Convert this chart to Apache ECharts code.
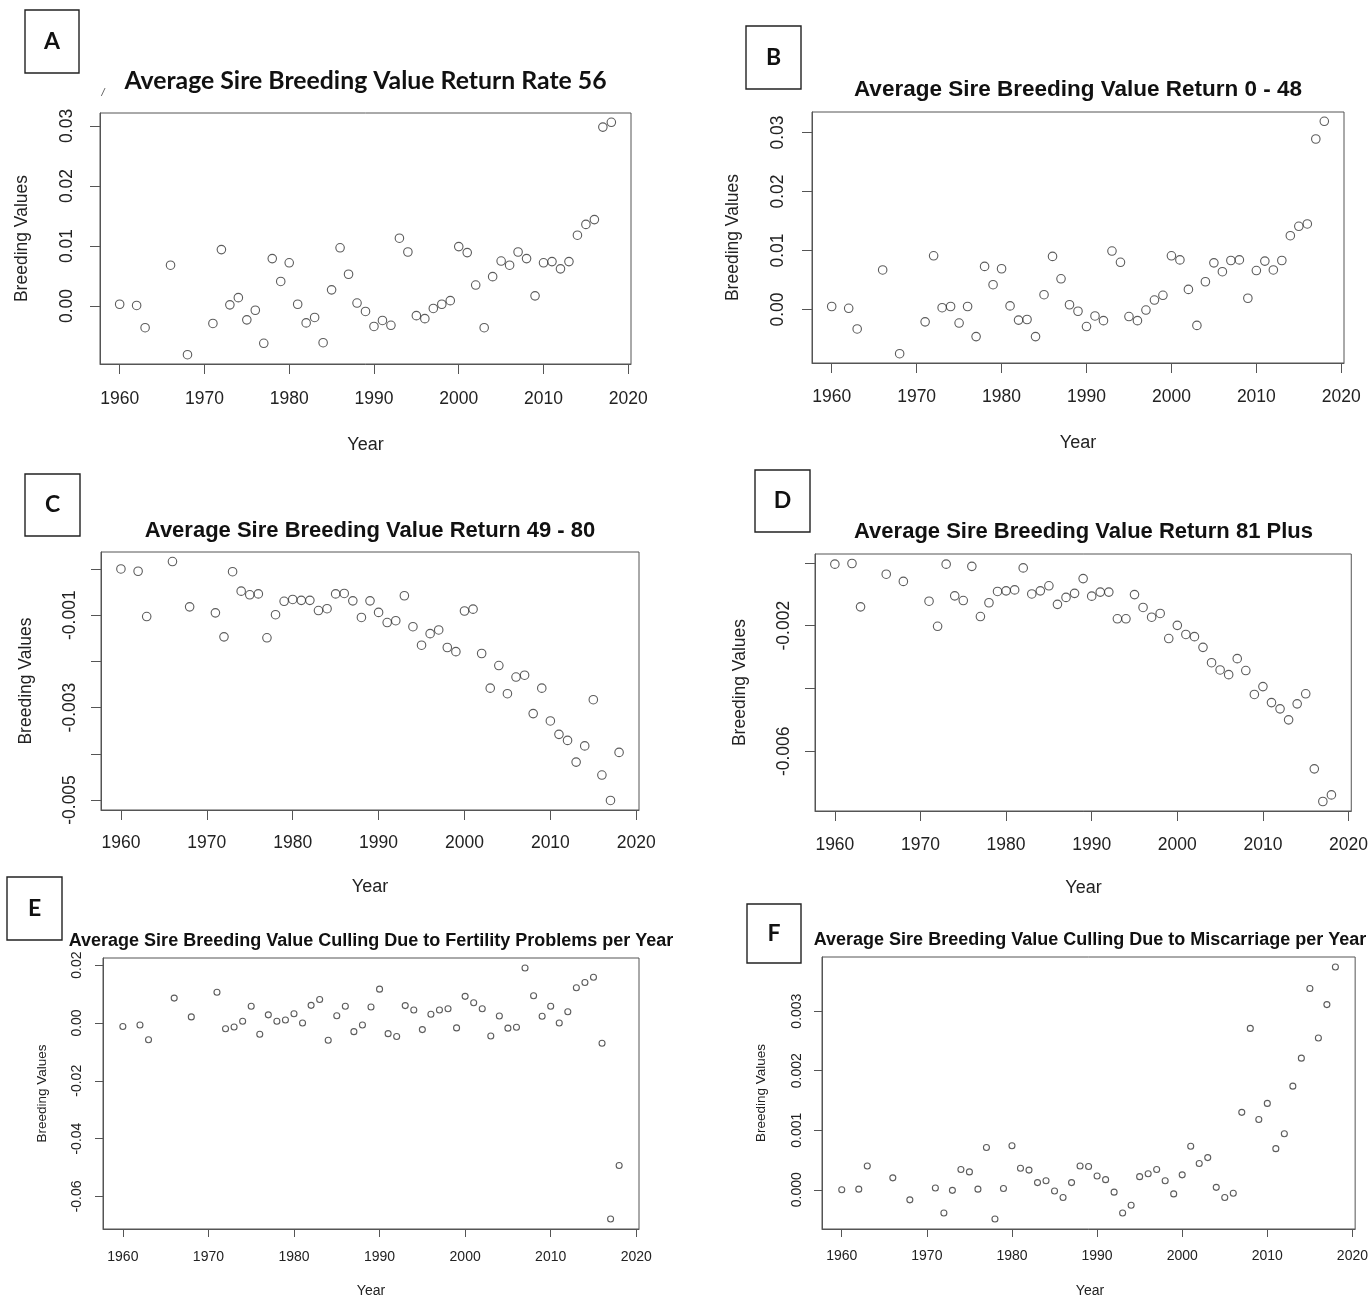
<!DOCTYPE html>
<html>
<head>
<meta charset="utf-8">
<script src="https://cdn.jsdelivr.net/npm/echarts@6/dist/echarts.min.js"></script>
<style>
  html, body { margin: 0; padding: 0; background: #fff; }
  #chart { width: 1371px; height: 1299px; }
</style>
</head>
<body>
<div id="chart"></div>
<script>
// Sire breeding value averages by birth year
const years = [1960, 1962, 1963, 1966, 1968,
  1971, 1972, 1973, 1974, 1975, 1976, 1977, 1978, 1979, 1980,
  1981, 1982, 1983, 1984, 1985, 1986, 1987, 1988, 1989, 1990,
  1991, 1992, 1993, 1994, 1995, 1996, 1997, 1998, 1999, 2000,
  2001, 2002, 2003, 2004, 2005, 2006, 2007, 2008, 2009, 2010,
  2011, 2012, 2013, 2014, 2015, 2016, 2017, 2018];

const returnRate56 = [0.0003, 0.0001, -0.0036, 0.0068, -0.0081,
  -0.0029, 0.0094, 0.0002, 0.0014, -0.0023, -0.0007, -0.0062, 0.0079, 0.0041, 0.0072,
  0.0003, -0.0028, -0.0019, -0.0061, 0.0027, 0.0097, 0.0053, 0.0005, -0.0009, -0.0034,
  -0.0024, -0.0032, 0.0113, 0.0090, -0.0016, -0.0021, -0.0004, 0.0003, 0.0009, 0.0099,
  0.0089, 0.0035, -0.0036, 0.0049, 0.0075, 0.0068, 0.0090, 0.0079, 0.0017, 0.0072,
  0.0074, 0.0062, 0.0074, 0.0118, 0.0136, 0.0144, 0.0298, 0.0306];

const return0to48 = [0.0005, 0.0002, -0.0033, 0.0067, -0.0075,
  -0.0021, 0.0091, 0.0003, 0.0005, -0.0023, 0.0005, -0.0046, 0.0073, 0.0042, 0.0069,
  0.0006, -0.0018, -0.0017, -0.0046, 0.0025, 0.0090, 0.0052, 0.0008, -0.0003, -0.0029,
  -0.0011, -0.0019, 0.0099, 0.0080, -0.0012, -0.0019, -0.0001, 0.0016, 0.0024, 0.0091,
  0.0084, 0.0034, -0.0027, 0.0047, 0.0079, 0.0064, 0.0083, 0.0084, 0.0019, 0.0066,
  0.0082, 0.0067, 0.0083, 0.0125, 0.0141, 0.0145, 0.0289, 0.0319];

const return49to80 = [0.0000, -0.00005, -0.00103, 0.00016, -0.00082,
  -0.00095, -0.00147, -0.00006, -0.00048, -0.00056, -0.00054, -0.00149, -0.00099, -0.00070, -0.00066,
  -0.00068, -0.00068, -0.00090, -0.00086, -0.00054, -0.00053, -0.00069, -0.00105, -0.00069, -0.00094,
  -0.00116, -0.00112, -0.00058, -0.00125, -0.00165, -0.00140, -0.00132, -0.00170, -0.00179, -0.00091,
  -0.00087, -0.00183, -0.00258, -0.00209, -0.00270, -0.00234, -0.00230, -0.00313, -0.00258, -0.00329,
  -0.00358, -0.00371, -0.00418, -0.00383, -0.00283, -0.00446, -0.00501, -0.00397];

const return81Plus = [-0.00004, -0.00002, -0.00140, -0.00036, -0.00059,
  -0.00122, -0.00202, -0.00004, -0.00105, -0.00120, -0.00011, -0.00171, -0.00127, -0.00091, -0.00089,
  -0.00086, -0.00016, -0.00099, -0.00089, -0.00073, -0.00132, -0.00110, -0.00097, -0.00050, -0.00106,
  -0.00093, -0.00093, -0.00178, -0.00178, -0.00101, -0.00142, -0.00173, -0.00161, -0.00241, -0.00199,
  -0.00228, -0.00235, -0.00269, -0.00318, -0.00341, -0.00356, -0.00305, -0.00343, -0.00419, -0.00394,
  -0.00445, -0.00465, -0.00500, -0.00449, -0.00417, -0.00656, -0.00760, -0.00739];

const cullFertility = [-0.0012, -0.0007, -0.0058, 0.0086, 0.0021,
  0.0106, -0.0020, -0.0014, 0.0006, 0.0058, -0.0039, 0.0028, 0.0006, 0.0010, 0.0032,
  0.0000, 0.0061, 0.0081, -0.0060, 0.0025, 0.0058, -0.0030, -0.0007, 0.0055, 0.0117,
  -0.0037, -0.0047, 0.0060, 0.0045, -0.0023, 0.0030, 0.0045, 0.0049, -0.0017, 0.0092,
  0.0070, 0.0049, -0.0045, 0.0024, -0.0018, -0.0015, 0.0190, 0.0094, 0.0023, 0.0058,
  0.0000, 0.0039, 0.0122, 0.0140, 0.0158, -0.0070, -0.0678, -0.0493];

const cullMiscarriage = [0.00000, 0.00001, 0.00040, 0.00020, -0.00017,
  0.00003, -0.00039, -0.00001, 0.00034, 0.00030, 0.00001, 0.00071, -0.00049, 0.00002, 0.00074,
  0.00036, 0.00033, 0.00012, 0.00015, -0.00002, -0.00013, 0.00012, 0.00040, 0.00039, 0.00023,
  0.00017, -0.00004, -0.00039, -0.00026, 0.00022, 0.00027, 0.00034, 0.00015, -0.00007, 0.00025,
  0.00073, 0.00044, 0.00054, 0.00004, -0.00013, -0.00006, 0.00130, 0.00271, 0.00118, 0.00145,
  0.00069, 0.00094, 0.00174, 0.00221, 0.00338, 0.00255, 0.00311, 0.00374];

const panelTitles = [
  'Average Sire Breeding Value Return Rate 56',
  'Average Sire Breeding Value Return 0 - 48',
  'Average Sire Breeding Value Return 49 - 80',
  'Average Sire Breeding Value Return 81 Plus',
  'Average Sire Breeding Value Culling Due to Fertility Problems per Year',
  'Average Sire Breeding Value Culling Due to Miscarriage per Year'
];
const panelLetters = ['A', 'B', 'C', 'D', 'E', 'F'];

const xTicks = [1960, 1970, 1980, 1990, 2000, 2010, 2020];
const yTicksA = [0, 0.01, 0.02, 0.03];
const yTicksB = [0, 0.01, 0.02, 0.03];
const yTicksC = [-0.005, -0.004, -0.003, -0.002, -0.001, 0];
const yLabelsC = [-0.005, -0.003, -0.001];
const yTicksD = [-0.006, -0.004, -0.002, 0];
const yLabelsD = [-0.006, -0.002];
const yTicksE = [-0.06, -0.04, -0.02, 0, 0.02];
const yTicksF = [0, 0.001, 0.002, 0.003];

// Layout of each panel (plot box, label boxes, text placement)
const ARIAL = '"Liberation Sans", Arial, sans-serif';
const CALIBRI = 'Lato, "Liberation Sans", sans-serif';
const panels = [
  { values: returnRate56, ticks: yTicksA, labels: yTicksA, digits: 2,
    grid: { left: 100, top: 113, width: 531, height: 251 },
    box: [25, 10, 54, 63], titleY: 81, titleFont: CALIBRI, titleSize: 24.8,
    tickFont: 17.5, tickLen: 10, xMargin: 26, yMargin: 24, xNameY: 445, yNameX: 22, nameFont: 18, bvFont: 17.5, sym: 8.5 },
  { values: return0to48, ticks: yTicksB, labels: yTicksB, digits: 2,
    grid: { left: 812, top: 112, width: 532, height: 251 },
    box: [746, 26, 55, 63], titleY: 90, titleFont: ARIAL, titleSize: 22.5,
    tickFont: 17.5, tickLen: 10, xMargin: 25, yMargin: 25, xNameY: 443, yNameX: 733, nameFont: 18, bvFont: 17.5, sym: 8.5 },
  { values: return49to80, ticks: yTicksC, labels: yLabelsC, digits: 3,
    grid: { left: 101, top: 552, width: 538, height: 258 },
    box: [25, 474, 55, 62], titleY: 531, titleFont: ARIAL, titleSize: 22,
    tickFont: 17.5, tickLen: 10, xMargin: 24, yMargin: 22, xNameY: 887, yNameX: 26, nameFont: 18, bvFont: 17.5, sym: 8.5 },
  { values: return81Plus, ticks: yTicksD, labels: yLabelsD, digits: 3,
    grid: { left: 815, top: 554, width: 537, height: 257 },
    box: [755, 470, 55, 62], titleY: 532, titleFont: ARIAL, titleSize: 22,
    tickFont: 17.5, tickLen: 10, xMargin: 25, yMargin: 22, xNameY: 888, yNameX: 740, nameFont: 18, bvFont: 17.5, sym: 8.5 },
  { values: cullFertility, ticks: yTicksE, labels: yTicksE, digits: 2,
    grid: { left: 103, top: 958, width: 536, height: 271 },
    box: [7, 877, 55, 63], titleY: 941, titleFont: ARIAL, titleSize: 18,
    tickFont: 14, tickLen: 8, xMargin: 21, yMargin: 19, xNameY: 1291, yNameX: 42, nameFont: 14, bvFont: 13.5, sym: 6 },
  { values: cullMiscarriage, ticks: yTicksF, labels: yTicksF, digits: 3,
    grid: { left: 822, top: 957, width: 536, height: 272 },
    box: [747, 904, 54, 59], titleY: 940, titleFont: ARIAL, titleSize: 18,
    tickFont: 14, tickLen: 8, xMargin: 20, yMargin: 18, xNameY: 1291, yNameX: 761, nameFont: 14, bvFont: 13.5, sym: 6 }
];

// R-style axis limits: data range widened by 4% on each side
function rRange(arr) {
  const lo = Math.min.apply(null, arr), hi = Math.max.apply(null, arr);
  const pad = (hi - lo) * 0.04;
  return [lo - pad, hi + pad];
}
const xRange = rRange(years);

const AXIS = '#555';
const TEXT = '#222';

const grids = [], xAxes = [], yAxes = [], series = [], graphics = [];

panels.forEach(function (p, i) {
  grids.push(Object.assign({ show: true, borderColor: AXIS, borderWidth: 1, backgroundColor: 'transparent' }, p.grid));
  xAxes.push({
    type: 'value', gridIndex: i, min: xRange[0], max: xRange[1],
    axisLine: { show: true, onZero: false, lineStyle: { color: AXIS, width: 1 } },
    axisTick: { show: true, length: p.tickLen, customValues: xTicks, lineStyle: { color: AXIS, width: 1 } },
    axisLabel: { customValues: xTicks, margin: p.xMargin, fontFamily: ARIAL, fontSize: p.tickFont, color: TEXT,
      formatter: function (v) { return String(Math.round(v)); } },
    splitLine: { show: false }
  });
  const yr = rRange(p.values);
  yAxes.push({
    type: 'value', gridIndex: i, min: yr[0], max: yr[1],
    axisLine: { show: true, onZero: false, lineStyle: { color: AXIS, width: 1 } },
    axisTick: { show: true, length: p.tickLen, customValues: p.ticks, lineStyle: { color: AXIS, width: 1 } },
    axisLabel: { customValues: p.labels, rotate: 90, margin: p.yMargin, fontFamily: ARIAL, fontSize: p.tickFont, color: TEXT,
      formatter: function (v) { return Math.abs(v) < 1e-12 ? (0).toFixed(p.digits) : v.toFixed(p.digits); } },
    splitLine: { show: false }
  });
  series.push({
    type: 'scatter', xAxisIndex: i, yAxisIndex: i,
    data: years.map(function (y, k) { return [y, p.values[k]]; }),
    symbol: 'circle', symbolSize: p.sym,
    itemStyle: { color: 'rgba(0,0,0,0)', borderColor: '#333', borderWidth: 1.1 },
    emphasis: { disabled: true }, silent: true
  });

  const cx = p.grid.left + p.grid.width / 2;
  const cy = p.grid.top + p.grid.height / 2;
  // panel letter in a framed box
  graphics.push({ type: 'rect', shape: { x: p.box[0], y: p.box[1], width: p.box[2], height: p.box[3] },
    style: { fill: '#fff', stroke: '#222', lineWidth: 1.4 } });
  graphics.push({ type: 'text', x: p.box[0] + p.box[2] / 2, y: p.box[1] + p.box[3] / 2,
    style: { text: panelLetters[i], font: 'bold 23px ' + CALIBRI, fill: '#111', textAlign: 'center', textVerticalAlign: 'middle' } });
  // panel title
  graphics.push({ type: 'text', x: cx, y: p.titleY,
    style: { text: panelTitles[i], font: 'bold ' + p.titleSize + 'px ' + p.titleFont, fill: '#111', textAlign: 'center', textVerticalAlign: 'middle' } });
  // axis names
  graphics.push({ type: 'text', x: cx, y: p.xNameY,
    style: { text: 'Year', font: p.nameFont + 'px ' + ARIAL, fill: TEXT, textAlign: 'center', textVerticalAlign: 'middle' } });
  graphics.push({ type: 'text', x: p.yNameX, y: cy, rotation: Math.PI / 2,
    style: { text: 'Breeding Values', font: p.bvFont + 'px ' + ARIAL, fill: TEXT, textAlign: 'center', textVerticalAlign: 'middle' } });
});

// stray mark left of the first title
graphics.push({ type: 'text', x: 103, y: 93,
  style: { text: '/', font: 'italic 11px ' + ARIAL, fill: '#555', textAlign: 'center', textVerticalAlign: 'middle' } });

const chart = echarts.init(document.getElementById('chart'), null, { renderer: 'canvas' });
chart.setOption({
  animation: false,
  backgroundColor: '#fff',
  grid: grids,
  xAxis: xAxes,
  yAxis: yAxes,
  series: series,
  graphic: { elements: graphics }
});
</script>
</body>
</html>
